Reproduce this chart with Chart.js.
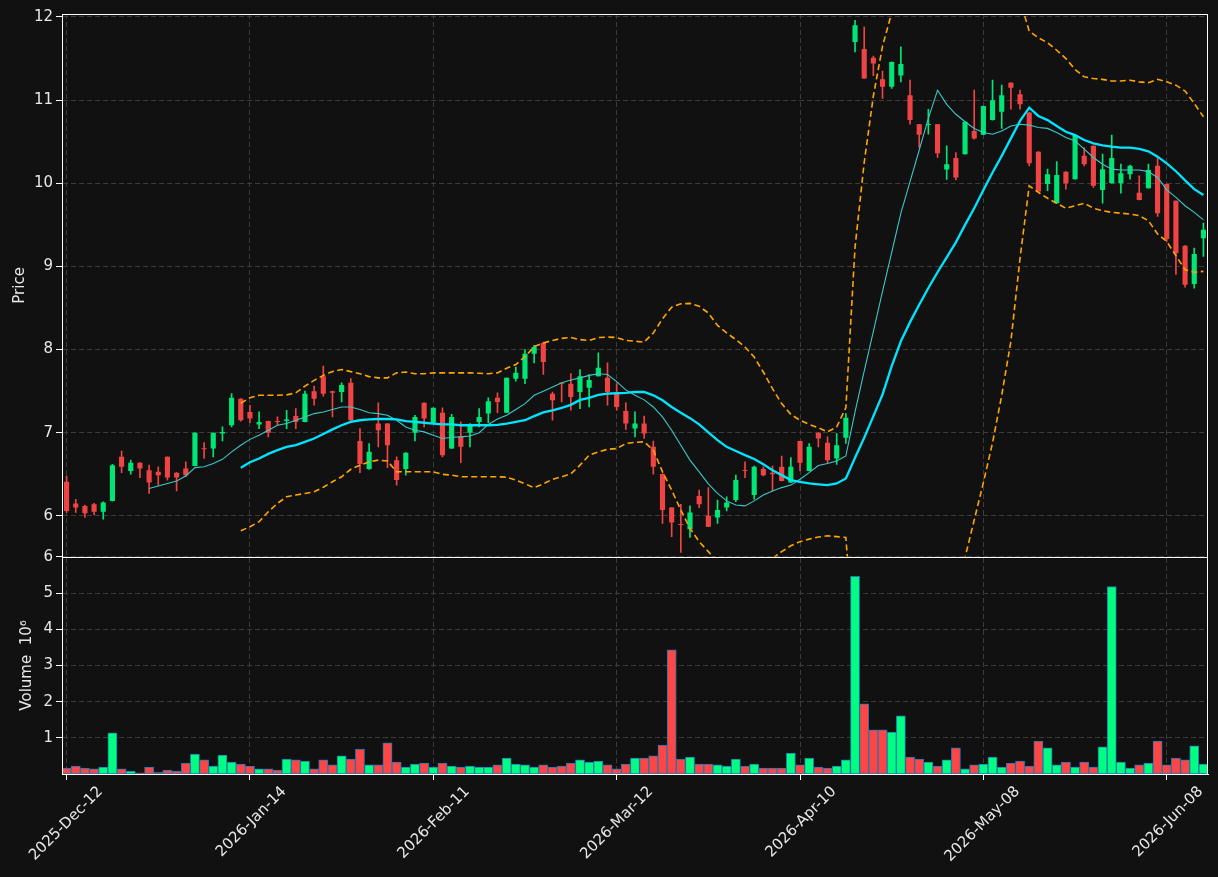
<!DOCTYPE html>
<html><head><meta charset="utf-8">
<script src="https://cdn.jsdelivr.net/npm/chart.js@4.4.1/dist/chart.umd.min.js"></script>
<style>html,body{margin:0;padding:0;background:#111111;overflow:hidden}#wrap{width:1218px;height:877px;position:relative}</style>
</head><body><div id="wrap"><canvas id="c"></canvas></div>
<script>
// ---------------- data ----------------
const tickDates = ['2025-Dec-12','2026-Jan-14','2026-Feb-11','2026-Mar-12','2026-Apr-10','2026-May-08','2026-Jun-08'];
const tickIndex = [0,20,40,60,80,100,120];
const priceTicks = [6,7,8,9,10,11,12];
const volumeTicks = [1,2,3,4,5,6];

const opens = [6.41,6.15,6.12,6.14,6.05,6.18,6.71,6.54,6.64,6.55,
6.53,6.71,6.52,6.57,6.60,6.81,6.81,6.99,7.09,7.41,
7.25,7.10,7.14,7.14,7.14,7.20,7.13,7.50,7.68,7.50,
7.49,7.60,6.90,6.565,7.11,7.11,6.67,6.565,7.00,7.36,
7.12,7.24,6.81,6.96,7.00,7.13,7.23,7.42,7.24,7.65,
7.65,7.95,8.08,7.47,7.60,7.59,7.49,7.54,7.68,7.66,
7.47,7.26,7.05,7.11,6.83,6.505,6.10,5.90,5.84,6.24,
6.00,5.98,6.10,6.19,6.55,6.25,6.565,6.52,6.59,6.40,
6.90,6.54,7.00,6.88,6.69,6.94,11.70,11.615,11.51,11.25,
11.16,11.295,11.06,10.71,10.70,10.71,10.165,10.305,10.35,10.63,
10.585,10.76,10.86,11.21,11.07,10.85,10.38,9.99,9.76,10.14,
10.05,10.33,10.45,9.92,10.00,10.00,10.11,9.885,9.94,10.21,
9.99,9.79,9.25,8.79,9.34];
const highs = [6.48,6.20,6.13,6.15,6.17,6.62,6.78,6.67,6.64,6.61,
6.59,6.71,6.52,6.65,7.00,6.88,7.00,7.07,7.47,7.41,
7.33,7.25,7.14,7.19,7.27,7.29,7.50,7.56,7.80,7.50,
7.60,7.65,7.05,6.87,7.36,7.11,6.71,6.76,7.21,7.36,
7.30,7.30,7.22,7.13,7.11,7.29,7.42,7.48,7.66,7.79,
8.00,8.05,8.09,7.49,7.60,7.71,7.76,7.70,7.96,7.84,
7.59,7.36,7.25,7.20,6.90,6.505,6.10,6.14,6.12,6.31,
6.34,6.19,6.23,6.49,6.65,6.60,6.59,6.60,6.72,6.70,
6.90,6.87,7.00,6.95,6.99,7.23,11.96,11.88,11.53,11.35,
11.46,11.64,11.24,10.71,10.89,10.71,10.45,10.37,10.74,11.12,
10.93,11.24,11.18,11.21,11.12,10.85,10.38,10.17,10.26,10.14,
10.58,10.43,10.45,10.35,10.58,10.23,10.22,10.09,10.23,10.30,
9.99,9.79,9.25,9.22,9.52];
const lows = [6.04,6.04,5.98,6.01,5.96,6.18,6.52,6.50,6.46,6.27,
6.37,6.43,6.30,6.47,6.60,6.69,6.71,6.90,7.07,7.14,
7.12,7.05,6.95,7.09,7.05,7.05,7.13,7.33,7.44,7.19,
7.37,7.14,6.52,6.56,6.83,6.58,6.37,6.49,6.90,7.07,
7.12,6.71,6.81,6.64,6.83,7.07,7.12,7.24,7.24,7.62,
7.59,7.84,7.70,7.15,7.37,7.27,7.29,7.31,7.68,7.33,
7.27,7.04,6.95,6.93,6.50,5.91,5.75,5.56,5.74,6.10,
5.87,5.91,6.06,6.17,6.46,6.20,6.48,6.30,6.42,6.40,
6.54,6.54,6.83,6.64,6.62,6.87,11.58,11.26,11.295,11.02,
11.14,11.22,10.71,10.43,10.59,10.31,10.045,10.04,10.35,10.53,
10.585,10.76,10.66,10.89,10.89,10.21,9.90,9.91,9.76,9.93,
10.05,10.21,9.95,9.76,10.00,9.88,10.05,9.80,9.94,9.60,
9.30,8.905,8.75,8.74,9.12];
const closes = [6.06,6.10,6.03,6.05,6.16,6.61,6.59,6.64,6.57,6.40,
6.49,6.46,6.46,6.49,7.00,6.80,7.00,7.01,7.42,7.15,
7.17,7.13,7.00,7.13,7.16,7.13,7.47,7.41,7.47,7.48,
7.575,7.15,6.625,6.77,7.03,6.85,6.43,6.76,7.19,7.17,
7.30,6.73,7.19,6.83,7.08,7.19,7.38,7.37,7.66,7.72,
7.95,8.03,7.85,7.39,7.59,7.43,7.68,7.635,7.78,7.49,
7.31,7.11,7.11,6.99,6.59,6.07,5.92,5.89,6.04,6.14,
5.87,6.07,6.16,6.43,6.54,6.59,6.49,6.50,6.42,6.59,
6.64,6.83,6.93,6.67,6.85,7.18,11.90,11.26,11.44,11.16,
11.46,11.435,10.76,10.585,10.71,10.36,10.23,10.07,10.74,10.54,
10.93,11.00,11.06,11.15,10.95,10.24,9.90,10.11,10.10,10.00,
10.58,10.23,9.97,10.17,10.305,10.12,10.21,9.80,10.16,9.64,
9.33,9.16,8.78,9.15,9.44];
// volume in millions
const volumes = [0.166,0.22,0.166,0.14,0.19,1.135,0.14,0.08,0.03,0.19,
0.055,0.11,0.08,0.30,0.55,0.39,0.22,0.525,0.33,0.277,
0.22,0.14,0.14,0.11,0.415,0.39,0.36,0.14,0.39,0.25,
0.50,0.415,0.69,0.25,0.25,0.86,0.33,0.19,0.277,0.30,
0.19,0.30,0.22,0.19,0.22,0.19,0.19,0.25,0.44,0.277,
0.25,0.19,0.25,0.19,0.22,0.30,0.39,0.33,0.36,0.25,
0.14,0.277,0.44,0.44,0.50,0.80,3.43,0.415,0.47,0.277,
0.277,0.25,0.22,0.415,0.22,0.277,0.166,0.166,0.166,0.58,
0.25,0.44,0.19,0.166,0.22,0.39,5.46,1.94,1.22,1.22,
1.16,1.61,0.47,0.415,0.33,0.22,0.39,0.72,0.14,0.25,
0.277,0.47,0.19,0.30,0.36,0.22,0.91,0.72,0.25,0.33,
0.19,0.33,0.19,0.75,5.18,0.33,0.166,0.25,0.30,0.91,
0.25,0.44,0.39,0.78,0.277];
// moving averages / bands (null before they start)
const ma10 = [null,null,null,null,null,null,null,null,null,
6.33,6.36,6.39,6.42,6.48,6.58,6.59,6.63,6.68,6.77,
6.85,6.92,6.97,7.03,7.09,7.11,7.15,7.19,7.23,7.25,
7.28,7.31,7.31,7.28,7.24,7.23,7.21,7.15,7.07,7.03,
7.01,6.97,6.93,6.945,6.95,6.96,7.00,7.10,7.165,7.21,
7.28,7.35,7.45,7.50,7.55,7.60,7.635,7.66,7.69,7.71,
7.70,7.615,7.515,7.45,7.395,7.31,7.19,7.03,6.85,6.67,
6.53,6.385,6.27,6.18,6.13,6.12,6.18,6.25,6.30,6.34,
6.37,6.44,6.52,6.605,6.63,6.66,6.72,7.25,7.74,8.22,
8.70,9.17,9.64,10.02,10.40,10.78,11.12,10.95,10.83,10.74,
10.66,10.61,10.59,10.63,10.69,10.71,10.70,10.67,10.66,10.61,
10.55,10.51,10.41,10.31,10.23,10.17,10.16,10.16,10.16,10.14,
10.07,9.92,9.83,9.73,9.65,9.56];
const ma20 = [null,null,null,null,null,null,null,null,null,null,
null,null,null,null,null,null,null,null,null,
6.58,6.645,6.69,6.745,6.79,6.83,6.85,6.89,6.93,6.985,
7.04,7.09,7.13,7.15,7.16,7.165,7.165,7.16,7.14,7.13,
7.12,7.11,7.10,7.10,7.09,7.09,7.09,7.09,7.095,7.11,
7.13,7.15,7.20,7.245,7.27,7.30,7.335,7.395,7.42,7.455,
7.47,7.475,7.48,7.49,7.49,7.45,7.39,7.31,7.24,7.175,
7.10,7.005,6.91,6.83,6.78,6.73,6.685,6.62,6.55,6.49,
6.43,6.41,6.39,6.38,6.37,6.39,6.45,6.70,6.94,7.20,
7.46,7.80,8.10,8.33,8.54,8.74,8.93,9.11,9.29,9.50,
9.70,9.92,10.13,10.33,10.54,10.75,10.91,10.81,10.76,10.69,
10.62,10.58,10.52,10.48,10.455,10.44,10.43,10.43,10.415,10.385,
10.32,10.24,10.145,10.035,9.93,9.86];
const bandUpper = [null,null,null,null,null,null,null,null,null,null,
null,null,null,null,null,null,null,null,null,
7.355,7.42,7.45,7.45,7.45,7.455,7.48,7.56,7.63,7.69,
7.735,7.76,7.735,7.71,7.675,7.66,7.66,7.72,7.73,7.71,
7.71,7.72,7.72,7.72,7.72,7.72,7.715,7.71,7.72,7.775,
7.82,7.915,8.035,8.08,8.11,8.135,8.145,8.12,8.11,8.145,
8.15,8.145,8.11,8.10,8.09,8.20,8.37,8.51,8.55,8.555,
8.52,8.44,8.29,8.20,8.12,8.03,7.91,7.73,7.53,7.35,
7.22,7.15,7.10,7.06,7.01,7.07,7.30,9.23,10.25,11.05,
11.65,12.05,12.4,12.7,12.9,13.1,13.3,13.4,13.5,13.5,
13.5,13.4,13.2,12.9,12.6,12.2,11.83,11.75,11.69,11.60,
11.50,11.37,11.28,11.26,11.25,11.23,11.23,11.24,11.22,11.21,
11.25,11.22,11.18,11.11,10.96,10.80];
const bandLower = [null,null,null,null,null,null,null,null,null,null,
null,null,null,null,null,null,null,null,null,
5.82,5.87,5.93,6.05,6.15,6.23,6.25,6.27,6.29,6.345,
6.41,6.47,6.56,6.61,6.65,6.67,6.66,6.53,6.53,6.53,
6.53,6.53,6.50,6.49,6.47,6.47,6.47,6.47,6.47,6.465,
6.43,6.385,6.34,6.385,6.44,6.47,6.505,6.61,6.73,6.77,
6.80,6.81,6.87,6.885,6.89,6.79,6.53,6.31,6.07,5.85,
5.69,5.57,5.45,5.38,5.35,5.35,5.38,5.43,5.49,5.57,
5.64,5.69,5.72,5.745,5.76,5.75,5.74,4.25,3.7,3.4,
3.25,3.1,3.1,3.3,3.6,3.9,4.2,4.5,4.9,5.5,
5.95,6.40,6.88,7.45,8.10,9.10,9.97,9.89,9.82,9.76,
9.70,9.73,9.76,9.70,9.67,9.65,9.64,9.63,9.61,9.55,
9.39,9.30,9.13,8.96,8.93,8.94];

// ---------------- styling ----------------
const FONT = 'DejaVu Sans';
const TXT = '#e8e8e8';
const GRID = '#3d3d3d';
const UP = '#00e676', DOWN = '#f04444';
const VUP = '#00ff80', VDOWN = '#ff4646';
const labels = opens.map((_, i) => String(i));
const isUp = opens.map((o, i) => closes[i] >= o);
const candleColors = isUp.map(u => u ? UP : DOWN);
const volColors = isUp.map(u => u ? VUP : VDOWN);

const bgPlugin = {
  id: 'bg',
  beforeDraw(chart) {
    const c = chart.ctx; c.save(); c.fillStyle = '#111111';
    c.fillRect(0, 0, chart.width, chart.height); c.restore();
  }
};
const panelClip = {
  id: 'panelClip',
  beforeDatasetDraw(chart, args) {
    const ys = chart.scales[args.meta.yAxisID]; const a = chart.chartArea; const c = chart.ctx;
    c.save(); c.beginPath(); c.rect(a.left, ys.top, a.right - a.left, ys.bottom - ys.top); c.clip();
  },
  afterDatasetDraw(chart) { chart.ctx.restore(); }
};
const framePlugin = {
  id: 'frame',
  afterDraw(chart) {
    const c = chart.ctx; const a = chart.chartArea;
    c.save(); c.strokeStyle = '#ffffff'; c.lineWidth = 1;
    ['y', 'yv'].forEach(id => {
      const s = chart.scales[id];
      c.strokeRect(Math.round(a.left) + 0.5, Math.round(s.top) + 0.5,
        Math.round(a.right - a.left) - 1, Math.round(s.bottom - s.top));
    });
    c.restore();
  }
};

const xGridColor = ctx => tickIndex.includes(ctx.index) ? GRID : 'rgba(0,0,0,0)';
const xTickColor = ctx => tickIndex.includes(ctx.index) ? '#ffffff' : 'rgba(0,0,0,0)';

new Chart(document.getElementById('c'), {
  type: 'bar',
  data: {
    labels: labels,
    datasets: [
      { type: 'line', label: 'MA20', data: ma20, yAxisID: 'y', borderColor: '#00e5ff', borderWidth: 2.3, pointRadius: 0, tension: 0, order: 0 },
      { type: 'line', label: 'MA10', data: ma10, yAxisID: 'y', borderColor: '#3cc8c8', borderWidth: 1.1, pointRadius: 0, tension: 0, order: 1 },
      { type: 'line', label: 'Upper', data: bandUpper, yAxisID: 'y', borderColor: '#ffa500', borderWidth: 1.6, borderDash: [6, 3.5], pointRadius: 0, tension: 0, order: 2 },
      { type: 'line', label: 'Lower', data: bandLower, yAxisID: 'y', borderColor: '#ffa500', borderWidth: 1.6, borderDash: [6, 3.5], pointRadius: 0, tension: 0, order: 3 },
      { type: 'bar', label: 'body', data: opens.map((o, i) => [o, closes[i]]), yAxisID: 'y', backgroundColor: candleColors, grouped: false, barPercentage: 0.56, categoryPercentage: 1, minBarLength: 1, order: 4 },
      { type: 'bar', label: 'wick', data: lows.map((l, i) => [l, highs[i]]), yAxisID: 'y', backgroundColor: candleColors, grouped: false, barThickness: 1, minBarLength: 1, order: 5 },
      { type: 'bar', label: 'volume', data: volumes, yAxisID: 'yv', backgroundColor: volColors, borderColor: '#1f77b4', borderWidth: 1, borderSkipped: false, grouped: false, barPercentage: 1, categoryPercentage: 1, order: 6 }
    ]
  },
  options: {
    responsive: true, maintainAspectRatio: false, animation: false, devicePixelRatio: 1,
    layout: { padding: { left: 0, right: 10, top: 14, bottom: 0 } },
    plugins: { legend: { display: false }, tooltip: { enabled: false } },
    scales: {
      x: {
        type: 'category', offset: true,
        grid: { offset: false, color: xGridColor, lineWidth: 1, tickColor: xTickColor, tickLength: 6, tickBorderDash: [], tickWidth: 1 },
        border: { color: '#ffffff', width: 1, dash: [5, 3] },
        ticks: {
          autoSkip: false, maxRotation: 45, minRotation: 45, color: TXT, padding: 3, labelOffset: 34,
          font: { family: FONT, size: 15 },
          callback: (v, i) => { const k = tickIndex.indexOf(i); return k >= 0 ? tickDates[k] : ''; }
        },
        afterFit: s => { s.height = 103; s.paddingLeft = 0; s.paddingRight = 0; }
      },
      yv: {
        type: 'linear', position: 'left', stack: 'panels', stackWeight: 1, min: 0, max: 6,
        afterBuildTicks: s => { s.ticks = volumeTicks.map(v => ({ value: v })); },
        afterFit: s => { s.width = 62; s.paddingTop = 0; s.paddingBottom = 0; },
        grid: { color: GRID, lineWidth: 1, tickColor: '#ffffff', tickLength: 6, tickBorderDash: [] },
        border: { color: '#ffffff', width: 1, dash: [5, 3] },
        ticks: { color: TXT, padding: 3, font: { family: FONT, size: 15 } },
        title: { display: true, text: 'Volume  10\u2076', color: TXT, font: { family: FONT, size: 15 }, padding: { top: 18, bottom: 0 } }
      },
      y: {
        type: 'linear', position: 'left', stack: 'panels', stackWeight: 2.5, min: 5.507, max: 12.036,
        afterBuildTicks: s => { s.ticks = priceTicks.map(v => ({ value: v })); },
        afterFit: s => { s.width = 62; s.paddingTop = 0; s.paddingBottom = 0; },
        grid: { color: GRID, lineWidth: 1, tickColor: '#ffffff', tickLength: 6, tickBorderDash: [] },
        border: { color: '#ffffff', width: 1, dash: [5, 3] },
        ticks: { color: TXT, padding: 3, font: { family: FONT, size: 15 } },
        title: { display: true, text: 'Price', color: TXT, font: { family: FONT, size: 15 }, padding: { top: 11, bottom: 0 } }
      }
    }
  },
  plugins: [bgPlugin, panelClip, framePlugin]
});
</script></body></html>
